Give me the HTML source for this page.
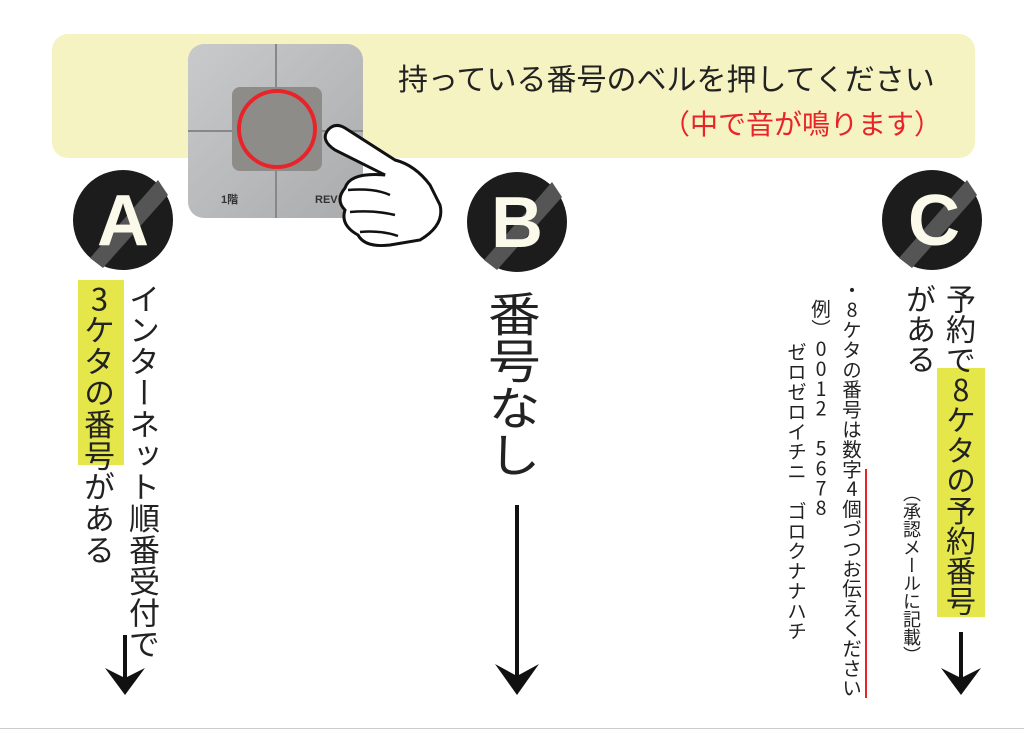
<!DOCTYPE html>
<html><head><meta charset="utf-8"><style>
body{margin:0;width:1024px;height:730px;background:#fff;position:relative;overflow:hidden;font-family:"Liberation Sans","Noto Sans CJK JP",sans-serif;color:#222}
.a{position:absolute}
.v{position:absolute;writing-mode:vertical-rl;text-orientation:upright;white-space:nowrap;line-height:1;font-family:"Noto Sans CJK JP",sans-serif}
.hl{background:#e4e64a}
</style></head><body>
<div class="a" style="left:52px;top:34px;width:923px;height:124px;background:#f6f3c2;border-radius:16px"></div>
<div class="a" style="left:398px;top:55px;font-size:30px;white-space:nowrap">持っている番号のベルを押してください</div>
<div class="a" style="left:662px;top:103px;font-size:28px;color:#e8242a;white-space:nowrap">（中で音が鳴ります）</div>

<svg class="a" style="left:0;top:0" width="1024" height="730">
 <defs><linearGradient id="g" x1="0" y1="0" x2="1" y2="1"><stop offset="0" stop-color="#c9cacb"/><stop offset="1" stop-color="#a9abad"/></linearGradient></defs>
 <rect x="188" y="44" width="175" height="174" rx="16" fill="url(#g)"/>
 <line x1="276" y1="44" x2="276" y2="218" stroke="#888" stroke-width="2"/>
 <line x1="188" y1="131" x2="363" y2="131" stroke="#888" stroke-width="2"/>
 <rect x="232" y="87" width="90" height="84" rx="8" fill="#8d8c88"/>
 <circle cx="277" cy="129" r="38" fill="none" stroke="#e8242a" stroke-width="4"/>
 <text x="221" y="203" font-size="11" font-weight="bold" fill="#333" font-family="Liberation Sans,Noto Sans CJK JP,sans-serif">1階</text>
 <text x="315" y="203" font-size="11" font-weight="bold" fill="#333" font-family="Liberation Sans,sans-serif">REV</text>
 <path d="M328 130 Q320 140 335 150 L385 175 Q350 172 345 188 Q335 200 345 210 Q340 225 358 235 Q365 248 390 245 L420 240 Q445 225 440 205 L430 185 Q415 165 395 160 L345 128 Q335 122 328 130 Z" fill="#fff" stroke="#111" stroke-width="3"/>
 <path d="M348 190 Q375 188 390 195 M350 212 Q375 210 395 215 M360 232 Q380 230 398 236" fill="none" stroke="#111" stroke-width="2.5"/>
 <circle cx="123" cy="220" r="50" fill="#1c1c1c"/>
 <path d="M90 258 L158 180 L168 195 L103 268 Z" fill="#555"/>
 <circle cx="517" cy="222" r="50" fill="#1c1c1c"/>
 <path d="M484 260 L552 182 L562 197 L497 270 Z" fill="#555"/>
 <circle cx="932" cy="220" r="50" fill="#1c1c1c"/>
 <path d="M899 258 L967 180 L977 195 L912 268 Z" fill="#555"/>
 <text x="123" y="245" text-anchor="middle" font-size="72" font-weight="bold" fill="#fbf9ea" font-family="Liberation Sans,sans-serif">A</text>
 <text x="517" y="247" text-anchor="middle" font-size="72" font-weight="bold" fill="#fbf9ea" font-family="Liberation Sans,sans-serif">B</text>
 <text x="934" y="245" text-anchor="middle" font-size="72" font-weight="bold" fill="#fbf9ea" font-family="Liberation Sans,sans-serif">C</text>
 <line x1="125" y1="635" x2="125" y2="685" stroke="#111" stroke-width="4"/>
 <path d="M105 668 L125 695 L145 668 L125 678 Z" fill="#111"/>
 <line x1="517" y1="505" x2="517" y2="685" stroke="#111" stroke-width="4"/>
 <path d="M495 664 L517 695 L539 664 L517 676 Z" fill="#111"/>
 <line x1="961" y1="632" x2="961" y2="685" stroke="#111" stroke-width="4"/>
 <path d="M941 668 L961 695 L981 668 L961 678 Z" fill="#111"/>
 <line x1="866" y1="469" x2="866" y2="698" stroke="#e8242a" stroke-width="2"/>
 <line x1="0" y1="728.5" x2="1024" y2="728.5" stroke="#ccc" stroke-width="1"/>
</svg>

<div class="a hl" style="left:78px;top:280px;width:46px;height:185px"></div>
<div class="v" style="left:129px;top:283px;font-size:31px;letter-spacing:0.4px">インターネット順番受付で</div>
<div class="v" style="left:84px;top:283px;font-size:31px;letter-spacing:0.4px">3ケタの番号がある</div>

<div class="v" style="left:491px;top:290px;font-size:47px;transform:scaleX(1.12)">番号なし</div>

<div class="a hl" style="left:937px;top:368px;width:48px;height:249px"></div>
<div class="v" style="left:946px;top:284px;font-size:30px;letter-spacing:0.2px">予約で8ケタの予約番号</div>
<div class="v" style="left:906px;top:284px;font-size:30px">がある</div>
<div class="v" style="left:903px;top:484px;font-size:18px">（承認メールに記載）</div>
<div class="v" style="left:842px;top:280px;font-size:19.5px;letter-spacing:0.4px">・8ケタの番号は数字4個づつお伝えください</div>
<div class="v" style="left:811px;top:299px;font-size:19.5px;letter-spacing:0.4px">例）0012　5678</div>
<div class="v" style="left:787px;top:342px;font-size:19.5px;letter-spacing:0.4px">ゼロゼロイチニ　ゴロクナナハチ</div>
</body></html>
